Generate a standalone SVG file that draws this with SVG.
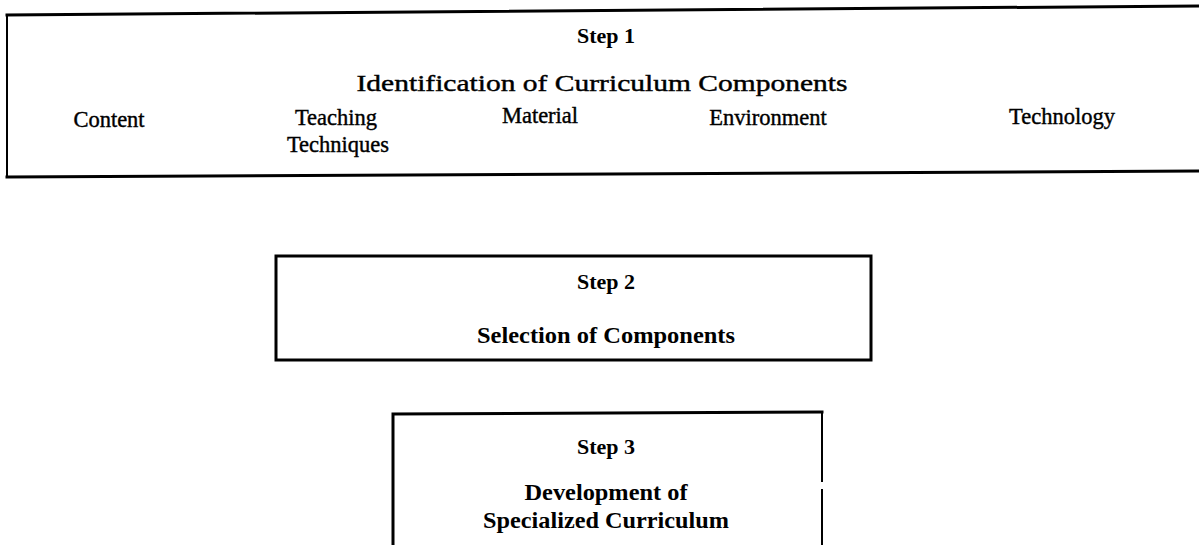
<svg xmlns="http://www.w3.org/2000/svg" width="1199" height="545" viewBox="0 0 1199 545">
  <style>
    .frame { fill: none; stroke: #000; stroke-width: 3; stroke-linecap: square; }
    .side { fill: none; stroke: #000; stroke-width: 2; }
    text { font-family: "Liberation Serif", "Times New Roman", serif; fill: #000; text-anchor: middle; }
    .step { font-weight: bold; font-size: 22px; }
    .head { font-size: 23px; stroke: #000; stroke-width: 0.4; }
    .item { font-size: 22.5px; stroke: #000; stroke-width: 0.4; }
    .body { font-weight: bold; font-size: 24px; }
  </style>
  <rect width="1199" height="545" fill="#fff"/>

  <!-- Step 1: wide box, open on the right -->
  <g id="step1">
    <path class="frame" d="M1199 6 L7 15"/>
    <path class="frame" d="M7 177 L1199 171"/>
    <path class="side" d="M7 15 L7 177"/>
    <text class="step" x="606" y="43">Step 1</text>
    <text class="head" x="602" y="91" textLength="491" lengthAdjust="spacingAndGlyphs">Identification of Curriculum Components</text>
    <text class="item" x="109" y="127">Content</text>
    <text class="item" x="336" y="125">Teaching</text>
    <text class="item" x="338" y="152">Techniques</text>
    <text class="item" x="540" y="123">Material</text>
    <text class="item" x="768" y="125">Environment</text>
    <text class="item" x="1062" y="124">Technology</text>
  </g>

  <!-- Step 2: closed box -->
  <g id="step2">
    <rect class="frame" x="276" y="256" width="595" height="104"/>
    <text class="step" x="606" y="289">Step 2</text>
    <text class="body" x="606" y="343" textLength="258" lengthAdjust="spacingAndGlyphs">Selection of Components</text>
  </g>

  <!-- Step 3: box running off the bottom edge -->
  <g id="step3">
    <path class="frame" d="M393 546 L393 414 L822 412"/>
    <path class="side" d="M822 412 L822 482 M822 489 L822 546"/>
    <text class="step" x="606" y="454">Step 3</text>
    <text class="body" x="606" y="500" textLength="163" lengthAdjust="spacingAndGlyphs">Development of</text>
    <text class="body" x="606" y="528" textLength="246" lengthAdjust="spacingAndGlyphs">Specialized Curriculum</text>
  </g>

  <g id="connectors"></g>
</svg>
